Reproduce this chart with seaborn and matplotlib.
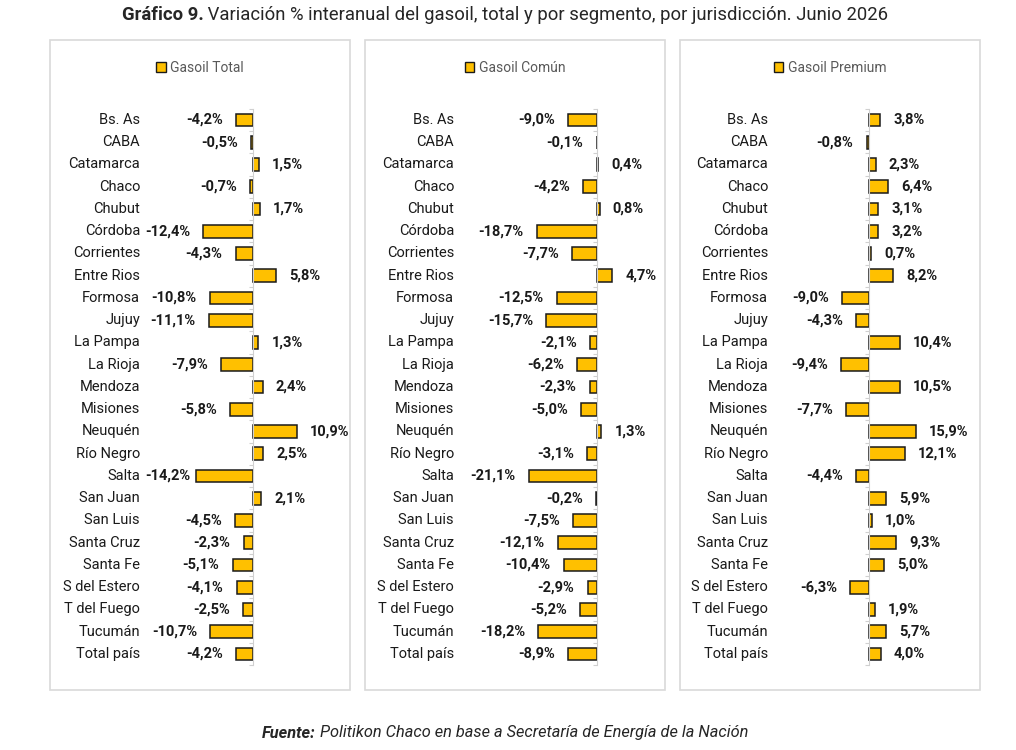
import matplotlib
matplotlib.use("Agg")
import matplotlib.pyplot as plt
import matplotlib.transforms as mtransforms
from matplotlib.patches import Rectangle, Patch
import pandas as pd
import seaborn as sns

provincias = ["Bs. As", "CABA", "Catamarca", "Chaco", "Chubut", "Córdoba", "Corrientes",
              "Entre Rios", "Formosa", "Jujuy", "La Pampa", "La Rioja", "Mendoza", "Misiones",
              "Neuquén", "Río Negro", "Salta", "San Juan", "San Luis", "Santa Cruz", "Santa Fe",
              "S del Estero", "T del Fuego", "Tucumán", "Total país"]

gasoil_total = [-4.2, -0.5, 1.5, -0.7, 1.7, -12.4, -4.3, 5.8, -10.8, -11.1, 1.3, -7.9, 2.4,
                -5.8, 10.9, 2.5, -14.2, 2.1, -4.5, -2.3, -5.1, -4.1, -2.5, -10.7, -4.2]
gasoil_comun = [-9.0, -0.1, 0.4, -4.2, 0.8, -18.7, -7.7, 4.7, -12.5, -15.7, -2.1, -6.2, -2.3,
                -5.0, 1.3, -3.1, -21.1, -0.2, -7.5, -12.1, -10.4, -2.9, -5.2, -18.2, -8.9]
gasoil_premium = [3.8, -0.8, 2.3, 6.4, 3.1, 3.2, 0.7, 8.2, -9.0, -4.3, 10.4, -9.4, 10.5,
                  -7.7, 15.9, 12.1, -4.4, 5.9, 1.0, 9.3, 5.0, -6.3, 1.9, 5.7, 4.0]
series_names = ["Gasoil Total", "Gasoil Común", "Gasoil Premium"]

sns.set_style("white")
plt.rcParams["font.family"] = ["Roboto", "DejaVu Sans"]

W, H = 1016, 750
fig = plt.figure(figsize=(W / 100, H / 100), dpi=100)
renderer = fig.canvas.get_renderer()

def fx(px):
    return px / W

def fy(py):
    return 1 - py / H

# panel layout (pixels): box left, box right, zero line x, px per unit, label right edge
panels = [
    (50, 350, 253, 4.0, 140),
    (365, 665, 597, 3.22, 454),
    (680, 980, 869, 2.95, 768),
]
box_top, box_bottom = 40, 690
row0_y, rowN_y = 120, 654
n = len(provincias)
row_h = (rowN_y - row0_y) / (n - 1)
ax_top = row0_y - 0.65 * row_h
ax_bottom = rowN_y + 0.65 * row_h

for (bl, br, zero, scale, lab_r), vals, name in zip(
        panels, [gasoil_total, gasoil_comun, gasoil_premium], series_names):
    fig.patches.append(Rectangle((fx(bl), fy(box_bottom)), fx(br - bl), (box_bottom - box_top) / H,
                                 transform=fig.transFigure, fill=False,
                                 edgecolor="#d9d9d9", linewidth=1.2))
    left, right = lab_r + 4, br - 6
    ax = fig.add_axes([fx(left), fy(ax_bottom), fx(right - left), (ax_bottom - ax_top) / H])
    df = pd.DataFrame({"prov": provincias, "val": vals})
    sns.barplot(data=df, x="val", y="prov", orient="h", color="#FFC000",
                edgecolor="#1a1a1a", linewidth=1.1, width=0.58, saturation=1, ax=ax)
    ax.set_xlim((left - zero) / scale, (right - zero) / scale)
    ax.set_ylim(n - 0.35, -0.65)
    ax.set_xlabel("")
    ax.set_ylabel("")
    ax.set_xticks([])
    for s in ["top", "right", "bottom"]:
        ax.spines[s].set_visible(False)
    ax.spines["left"].set_position(("data", 0))
    ax.spines["left"].set_color("#d0d0d0")
    ax.spines["left"].set_bounds(-0.5, n - 0.5)
    ax.set_yticks([i - 0.5 for i in range(n + 1)])
    ax.set_yticklabels([])
    ax.tick_params(axis="y", length=3, color="#d0d0d0", direction="out", left=True)
    ax.patch.set_alpha(0)

    labels = [f"{v:.1f}%".replace(".", ",") for v in vals]
    anns = ax.bar_label(ax.containers[0], labels=labels, padding=9.5, fontsize=10.5,
                        fontweight="bold", color="#1a1a1a")
    # keep value labels inside the plot area, like the original
    for a in anns:
        x0 = a.get_window_extent(renderer).x0
        if x0 < left + 1:
            dx = (left + 1 - x0) * 72 / 100
            a.xyann = (a.xyann[0] + dx, a.xyann[1])

    trans = mtransforms.blended_transform_factory(ax.transAxes, ax.transData)
    for i, p in enumerate(provincias):
        ax.text(-4 / (right - left), i, p, transform=trans, ha="right", va="center",
                fontsize=10.5, color="#1a1a1a")

    fig.legend(handles=[Patch(facecolor="#FFC000", edgecolor="#1a1a1a", linewidth=1.0)],
               labels=[name], loc="center", bbox_to_anchor=(fx((bl + br) / 2), fy(68)),
               frameon=False, fontsize=10, handlelength=0.7, handleheight=0.7,
               handletextpad=0.3, labelcolor="#595959")

# title with bold lead
t1 = fig.text(0, fy(15), "Gráfico 9.", fontsize=13.3, fontweight="bold", va="center", ha="left")
t2 = fig.text(0, fy(15), " Variación % interanual del gasoil, total y por segmento, por jurisdicción. Junio 2026",
              fontsize=13.3, va="center", ha="left")
w1 = t1.get_window_extent(renderer).width
w2 = t2.get_window_extent(renderer).width
x0 = (505 - (w1 + w2) / 2)
t1.set_x(fx(x0))
t2.set_x(fx(x0 + w1))

f1 = fig.text(0, fy(733), "Fuente:", fontsize=11.8, fontweight="bold", style="italic",
              va="center", ha="left")
f2 = fig.text(0, fy(733), " Politikon Chaco en base a Secretaría de Energía de la Nación",
              fontsize=11.8, style="italic", va="center", ha="left")
w1 = f1.get_window_extent(renderer).width
w2 = f2.get_window_extent(renderer).width
x0 = (505 - (w1 + w2) / 2)
f1.set_x(fx(x0))
f2.set_x(fx(x0 + w1))

fig.savefig("out.png", dpi=100)
